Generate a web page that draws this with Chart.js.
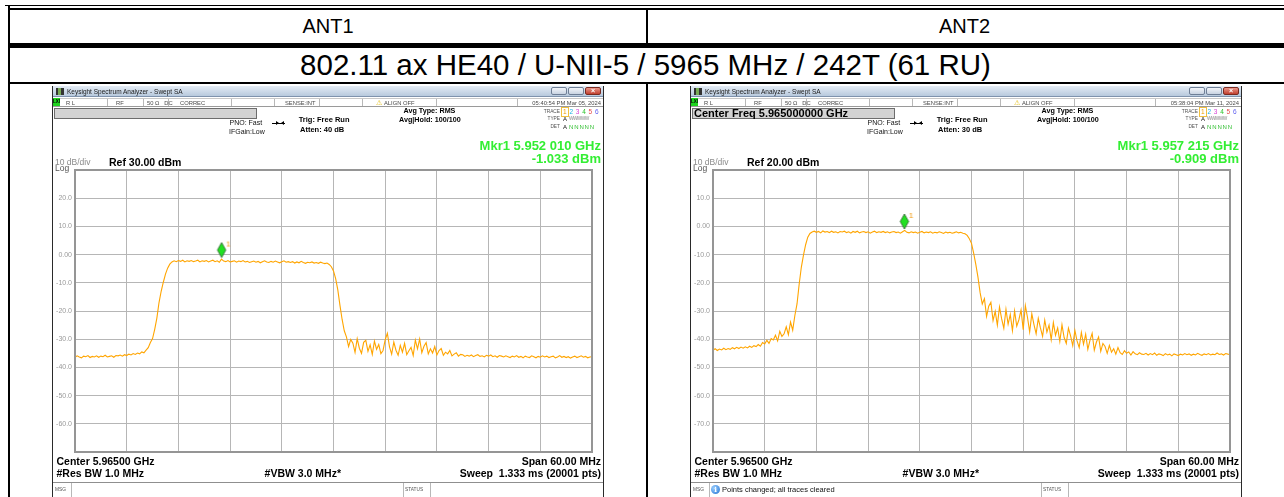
<!DOCTYPE html>
<html><head><meta charset="utf-8">
<script src="https://cdn.jsdelivr.net/npm/chart.js@4.4.1/dist/chart.umd.min.js"></script>
<style>
*{box-sizing:border-box;}
html,body{margin:0;padding:0;background:#fff;}
body{width:1284px;height:497px;position:relative;overflow:hidden;font-family:"Liberation Sans",Arial,Helvetica,sans-serif;color:#000;}
.b{position:absolute;background:#000;}
.ct{position:absolute;white-space:nowrap;text-align:center;}
.panel{position:absolute;top:86px;width:550px;height:411px;background:#fff;overflow:hidden;}
.t{position:absolute;white-space:pre;}
.tb{position:absolute;left:0;top:0;width:550px;height:11px;background:linear-gradient(#e4ecf6,#b8c9dd);border-bottom:1px solid #7f93ad;}
.ico{position:absolute;left:3px;top:2px;width:8px;height:7px;background:linear-gradient(90deg,#333 0 30%,#7a5 30% 60%,#333 60%);}
.wb{position:absolute;top:1px;width:16px;height:8px;border:1px solid #6f7f96;border-radius:2px;background:linear-gradient(#f2f5fa,#c9d4e2);}
.cl{background:linear-gradient(#e9968a,#c2402f);border-color:#7a2a20;color:#fff;font-size:7px;line-height:6px;text-align:center;font-weight:bold;}
.sr{position:absolute;left:0;top:12px;width:550px;height:9px;border-top:1px solid #c8c8c8;border-bottom:1px solid #9a9a9a;}
.sep{position:absolute;width:1px;background:#b8b8b8;}
.lxi{position:absolute;left:0;top:12px;width:7px;height:8px;background:#1ed31e;font-size:4.5px;line-height:8px;text-align:center;font-weight:bold;}
.gbox{position:absolute;left:1px;top:22px;width:203px;height:11px;background:#d3d3d3;border:1px solid #6d6d6d;font-weight:bold;font-size:11px;line-height:9px;padding-left:1px;white-space:nowrap;}
.stb{position:absolute;left:0;top:396px;width:550px;height:15px;border-top:1px solid #8f8f8f;}
.frame{position:absolute;top:86px;width:1px;height:411px;background:#2a2a2a;}
</style>
</head>
<body>
<!-- table rules -->
<div class="b" style="left:5px;top:5px;width:1279px;height:1px"></div>
<div class="b" style="left:8px;top:8px;width:1276px;height:2px"></div>
<div class="b" style="left:8px;top:5px;width:2px;height:492px"></div>
<div class="b" style="left:8px;top:43px;width:1276px;height:5px"></div>
<div class="b" style="left:8px;top:82px;width:1276px;height:2px"></div>
<div class="b" style="left:646px;top:10px;width:2px;height:33px"></div>
<div class="b" style="left:646px;top:84px;width:2px;height:413px"></div>
<div class="ct" style="left:10px;width:636px;top:10px;height:33px;line-height:33px;font-size:20px">ANT1</div>
<div class="ct" style="left:648px;width:633px;top:10px;height:33px;line-height:33px;font-size:20px">ANT2</div>
<div class="ct" style="left:10px;width:1271px;top:48px;height:34px;line-height:34px;font-size:29.5px">802.11 ax HE40 / U-NII-5 / 5965 MHz / 242T (61 RU)</div>

<script>
// ---------------- data ----------------
const centerMHz = 5965;
const spanMHz = 60;
const gridStepMHz = 6;

// ANT1 trace (dBm), sweep points evenly spaced over the span
const ant1Level = [
-36.4,-35.9,-36.3,-36.6,-36.0,-36.2,-35.8,-36.5,-36.1,-36.3,-35.9,-36.4,-36.0,-36.2,-35.7,-36.3,-36.1,-35.9,-36.4,-35.8,
-35.9,-35.6,-36.0,-35.5,-35.8,-35.3,-35.6,-35.1,-35.4,-34.9,-35.2,-34.5,-34.8,-33.9,-33.0,-31.2,-29.8,-26.5,-22.5,-17.0,
-13.0,-9.8,-6.9,-4.8,-3.4,-2.6,-2.2,-2.5,-2.1,-2.4,-2.0,-2.6,-2.2,-2.4,-2.1,-2.5,-2.3,-2.0,-2.6,-2.2,
-2.4,-2.1,-2.6,-2.3,-2.0,-2.5,-2.2,-2.7,-1.6,-2.3,-2.5,-2.1,-2.6,-2.4,-2.2,-2.7,-2.3,-2.5,-2.1,-2.6,
-2.4,-2.8,-2.5,-2.3,-2.7,-2.4,-2.9,-2.5,-2.2,-2.6,-2.8,-2.4,-2.7,-2.3,-2.6,-2.9,-2.5,-2.2,-2.7,-2.5,
-2.8,-2.5,-3.0,-2.6,-2.9,-2.4,-2.8,-3.1,-2.7,-2.9,-2.6,-3.0,-2.8,-3.1,-2.7,-3.0,-3.2,-3.0,-3.5,-4.3,
-5.8,-8.5,-12.5,-18.0,-23.0,-27.0,-29.2,-32.6,-30.1,-31.4,-34.7,-29.8,-33.2,-35.0,-31.1,-30.4,-34.3,-32.0,-35.4,-30.7,
-33.6,-31.9,-35.1,-34.0,-30.2,-27.9,-32.7,-35.3,-31.0,-33.9,-35.7,-32.2,-34.6,-31.5,-35.5,-34.1,-32.9,-35.8,-30.3,-33.4,
-29.9,-34.8,-32.5,-31.2,-35.2,-33.4,-34.9,-32.6,-35.6,-34.0,-33.3,-35.7,-34.6,-35.2,-34.0,-35.9,-35.3,-34.8,-36.0,-35.4,
-35.5,-36.1,-35.7,-36.0,-35.6,-36.2,-35.8,-35.5,-36.1,-35.9,-36.3,-35.7,-36.0,-35.6,-36.2,-35.9,-36.4,-35.8,-36.0,-36.3,
-35.9,-36.2,-36.5,-36.0,-36.3,-35.8,-36.4,-36.1,-36.6,-36.0,-36.3,-36.5,-35.9,-36.2,-36.6,-36.1,-36.4,-35.9,-36.3,-36.0,
-36.5,-36.2,-36.0,-36.6,-36.3,-35.8,-36.4,-36.1,-36.5,-36.2,-36.7,-36.3,-36.0,-36.5,-36.2,-35.9,-36.4,-36.1,-36.6,-36.3,-36.2
];

// ANT2 trace (dBm)
const ant2Level = [
-43.9,-43.4,-44.0,-43.5,-43.8,-43.2,-43.7,-43.3,-43.6,-43.0,-43.4,-42.9,-43.3,-42.8,-43.2,-42.7,-43.1,-42.5,-42.9,-42.3,
-42.6,-41.9,-42.5,-41.2,-41.7,-40.4,-41.5,-39.8,-40.3,-38.6,-40.6,-37.2,-39.0,-38.1,-35.6,-38.4,-33.9,-36.8,-31.6,-27.5,
-20.5,-14.5,-10.2,-6.5,-3.8,-2.5,-2.0,-1.7,-2.1,-1.8,-2.3,-1.6,-2.0,-1.8,-2.2,-1.7,-2.1,-1.9,-2.3,-1.8,
-2.0,-1.7,-2.2,-1.9,-2.4,-1.8,-2.1,-1.7,-2.3,-2.0,-1.8,-2.2,-1.9,-2.4,-2.0,-1.7,-2.2,-1.9,-2.1,-1.8,
-2.2,-1.9,-2.3,-2.0,-1.8,-2.2,-2.0,-2.4,-1.9,-1.4,-2.1,-2.3,-1.9,-2.2,-2.0,-2.4,-2.1,-1.8,-2.3,-2.0,
-2.2,-1.9,-2.4,-2.1,-2.3,-1.9,-2.2,-2.5,-2.0,-2.3,-2.1,-2.4,-2.2,-1.9,-2.3,-2.1,-2.4,-2.6,-3.2,-4.4,
-6.0,-9.5,-13.5,-18.0,-23.5,-27.5,-25.6,-31.9,-28.3,-26.9,-33.4,-30.1,-35.0,-28.6,-32.8,-36.1,-29.4,-34.7,-31.2,-37.0,
-30.0,-35.4,-33.1,-29.6,-36.6,-28.1,-32.3,-37.4,-31.0,-34.8,-38.1,-32.6,-36.0,-39.0,-33.2,-37.5,-35.0,-40.2,-34.1,-38.6,
-36.0,-40.8,-34.9,-39.4,-41.5,-36.1,-38.8,-42.3,-36.9,-40.6,-43.0,-37.6,-41.8,-38.2,-43.6,-40.4,-37.9,-43.9,-41.0,-39.2,
-44.3,-41.5,-42.6,-45.0,-42.2,-44.6,-43.4,-45.3,-43.0,-44.8,-45.4,-44.1,-45.0,-44.5,-45.6,-44.4,-45.2,-45.5,-44.8,-45.3,
-45.4,-45.0,-45.6,-45.1,-45.5,-44.9,-45.7,-45.2,-45.4,-45.8,-45.1,-45.6,-45.3,-45.9,-45.2,-45.5,-45.8,-45.3,-45.6,-45.1,
-45.5,-45.2,-45.7,-45.3,-45.6,-45.0,-45.4,-45.7,-45.2,-45.5,-45.1,-45.6,-45.3,-45.5,-44.9,-45.4,-45.2,-45.6,-45.1,-45.3,-45.4
];

// markers
const ant1Marker = {freqMHz: 5952.010, level: -1.033};
const ant2Marker = {freqMHz: 5957.215, level: -0.909};

// reference levels and y tick labels
const ant1RefLevel = 30;
const ant2RefLevel = 20;
const ant1TickValues = [20,10,0,-10,-20,-30,-40,-50,-60];
const ant1TickLabels = ['20.0','10.0','0.00','-10.0','-20.0','-30.0','-40.0','-50.0','-60.0'];
const ant2TickValues = [10,0,-10,-20,-30,-40,-50,-60,-70];
const ant2TickLabels = ['10.0','0.00','-10.0','-20.0','-30.0','-40.0','-50.0','-60.0','-70.0'];

// ---------------- helpers ----------------
function sweepPoints(levels){
  const start = centerMHz - spanMHz/2, step = spanMHz/(levels.length-1);
  return levels.map((v,i)=>({x: start + i*step, y: v}));
}
function markerImage(){
  const c=document.createElement('canvas'); c.width=24; c.height=40;
  const g=c.getContext('2d');
  g.beginPath(); g.moveTo(12,5); g.lineTo(16.2,12.5); g.lineTo(12,20); g.lineTo(7.8,12.5); g.closePath();
  g.fillStyle='#22e022'; g.fill(); g.strokeStyle='#2d5d2d'; g.lineWidth=0.8; g.stroke();
  g.fillStyle='#f29a10'; g.font='8px "Liberation Sans"'; g.fillText('1',16.5,8.5);
  return c;
}
const framePlugin={id:'frame',afterDraw(chart){const {ctx,chartArea:a}=chart;ctx.save();ctx.strokeStyle='#959595';ctx.lineWidth=2;ctx.strokeRect(a.left,a.top,a.right-a.left,a.bottom-a.top);ctx.restore();}};

function makeChart(canvas, levels, marker, ref, tickValues, tickLabels){
  const lo = centerMHz - spanMHz/2, hi = centerMHz + spanMHz/2;
  return new Chart(canvas.getContext('2d'), {
    type:'line',
    data:{datasets:[
      {data: sweepPoints(levels), borderColor:'#ffa500', borderWidth:1.1, pointRadius:0, tension:0, fill:false},
      {type:'scatter', data:[{x:marker.freqMHz, y:marker.level}], pointStyle: markerImage(), pointRadius:10, showLine:false}
    ]},
    options:{
      responsive:false, animation:false, events:[],
      layout:{padding:{left:0,right:5,top:10,bottom:10}},
      plugins:{legend:{display:false},tooltip:{enabled:false}},
      scales:{
        x:{type:'linear',min:lo,max:hi,ticks:{display:false,stepSize:gridStepMHz},
           grid:{color:'#b6b6b6',lineWidth:1,drawTicks:false},border:{display:false},
           afterFit(s){s.height=0;}},
        y:{min:ref-100,max:ref,ticks:{stepSize:10,padding:3,color:'#9a9a9a',font:{size:7,family:'Liberation Sans'},
             callback:(v)=>{const k=tickValues.indexOf(v);return k<0?'':tickLabels[k];}},
           grid:{color:'#b6b6b6',lineWidth:1,drawTicks:false},border:{display:false},
           afterFit(s){s.width=22;}}
      }
    },
    plugins:[framePlugin]
  });
}

function T(parent, s, o){
  const d=document.createElement('div'); d.className='t'; d.textContent=s;
  const lh=o.lh||12; d.style.lineHeight=lh+'px'; d.style.height=lh+'px'; d.style.top=(o.cy-lh/2)+'px';
  if(o.left!=null) d.style.left=o.left+'px';
  if(o.right!=null) d.style.right=(550-o.right)+'px';
  d.style.fontSize=o.fs+'px';
  if(o.bold) d.style.fontWeight='bold';
  if(o.color) d.style.color=o.color;
  if(o.css) d.style.cssText+=o.css;
  parent.appendChild(d); return d;
}
function div(parent, cls, css, html){const d=document.createElement('div'); if(cls) d.className=cls; d.style.cssText=css||''; if(html) d.innerHTML=html; parent.appendChild(d); return d;}

function buildPanel(p){
  div(document.body,'frame','left:'+(p.x0-1)+'px');
  div(document.body,'frame','left:'+(p.x0+550)+'px');
  const el=div(document.body,'panel','left:'+p.x0+'px');
  const cv=document.createElement('canvas'); cv.width=550; cv.height=304; cv.style.cssText='position:absolute;left:0;top:73px;';
  el.appendChild(cv);
  // title bar
  div(el,'tb');
  div(el,'ico');
  T(el,'Keysight Spectrum Analyzer - Swept SA',{left:14,cy:5.5,fs:6.5,lh:10,color:'#1a1a1a'});
  div(el,'wb','left:498px');
  div(el,'wb','left:515px');
  div(el,'wb cl','left:532px','×');
  // status row
  div(el,'sr');
  div(el,'lxi','','LXI');
  [54,90,115,178,221,266,309,383,464].forEach(x=>div(el,'sep','left:'+x+'px;top:13px;height:7px'));
  const sc='#4a4a4a';
  T(el,'R L',{left:13,cy:16.5,fs:5.8,lh:8,color:sc});
  T(el,'RF',{left:63,cy:16.5,fs:5.8,lh:8,color:sc});
  T(el,'50 Ω   DC',{left:94,cy:16.5,fs:5.8,lh:8,color:sc});
  T(el,'CORREC',{left:127,cy:16.5,fs:5.8,lh:8,color:sc});
  T(el,'SENSE:INT',{left:232,cy:16.5,fs:5.8,lh:8,color:sc});
  T(el,'ALIGN OFF',{left:331,cy:16.5,fs:5.8,lh:8,color:sc});
  T(el,'⚠',{left:323,cy:16.5,fs:7,lh:8,color:'#e0b800'});
  T(el,p.time,{right:548,cy:16.5,fs:5.8,lh:8,color:sc});
  // input box
  div(el,'gbox','',p.box);
  // settings
  T(el,'PNO: Fast',{left:176.5,cy:37.3,fs:7,color:'#111'});
  T(el,'IFGain:Low',{left:176,cy:45.7,fs:7,color:'#111'});
  div(el,'','position:absolute;left:219px;top:37px;width:13px;height:1px;background:#000');
  div(el,'','position:absolute;left:223px;top:35px;width:0;height:0;border-top:2.5px solid transparent;border-bottom:2.5px solid transparent;border-left:3px solid #000');
  div(el,'','position:absolute;left:228px;top:35px;width:0;height:0;border-top:2.5px solid transparent;border-bottom:2.5px solid transparent;border-right:3px solid #000');
  T(el,'Trig: Free Run',{left:245.7,cy:34,fs:7.5,bold:true});
  T(el,p.atten,{left:247,cy:43.7,fs:7.5,bold:true});
  T(el,'Avg Type: RMS',{left:350.5,cy:25.3,fs:7.2,bold:true});
  T(el,'Avg|Hold: 100/100',{left:346,cy:34,fs:7.2,bold:true});
  // trace block
  T(el,'TRACE',{right:507,cy:26.3,fs:4.8,lh:8,color:'#555'});
  T(el,'TYPE',{right:507,cy:33,fs:4.8,lh:8,color:'#555'});
  T(el,'DET',{right:507,cy:41,fs:4.8,lh:8,color:'#555'});
  const digits=[['1','#f0a000'],['2','#1fb3e6'],['3','#d640d6'],['4','#28c228'],['5','#e64a4a'],['6','#6262f0']];
  digits.forEach((d,i)=>{const e=T(el,d[0],{left:510+i*6.4,cy:26.3,fs:6.5,lh:8,color:d[1]}); if(i===0){e.style.outline='1px solid #f0c040';e.style.padding='0 1px';e.style.left='509px';}});
  T(el,'A',{left:510,cy:33,fs:6,lh:8,color:'#111'});
  T(el,'WWWWW',{left:516,cy:33,fs:4.8,lh:8,color:'#888',css:'letter-spacing:-0.6px'});
  T(el,'A',{left:510,cy:41,fs:6,lh:8,color:'#111'});
  T(el,'N N N N N',{left:516,cy:41,fs:6,lh:8,color:'#2fbf2f',css:'letter-spacing:-0.4px'});
  // marker readout
  T(el,p.mkr1,{right:548,cy:60,fs:13,bold:true,lh:14,color:'#33ee33'});
  T(el,p.mkr2,{right:548,cy:73,fs:13,bold:true,lh:14,color:'#33ee33'});
  // scale labels
  T(el,'10 dB/div',{left:2,cy:76.5,fs:8.5,lh:9,color:'#8a8a8a'});
  T(el,'Log',{left:2,cy:82.5,fs:8.5,lh:9,color:'#555'});
  T(el,p.ref,{left:56,cy:75.7,fs:10.5,bold:true});
  // bottom annotations
  T(el,'Center 5.96500 GHz',{left:3.5,cy:374.8,fs:10.5,bold:true});
  T(el,'Span 60.00 MHz',{right:548,cy:374.8,fs:10.5,bold:true});
  T(el,'#Res BW 1.0 MHz',{left:3.5,cy:387.3,fs:10.5,bold:true});
  T(el,'#VBW 3.0 MHz*',{left:211.6,cy:387.3,fs:10.5,bold:true});
  T(el,'Sweep  1.333 ms (20001 pts)',{right:548,cy:387.3,fs:10.5,bold:true});
  // status bar
  div(el,'stb');
  div(el,'sep','left:18px;top:397px;height:14px');
  div(el,'sep','left:350px;top:397px;height:14px');
  div(el,'sep','left:377px;top:397px;height:14px');
  T(el,'MSG',{left:2,cy:404,fs:4.8,lh:8,color:'#555'});
  T(el,'STATUS',{left:352,cy:404,fs:4.8,lh:8,color:'#555'});
  if(p.msg){
    div(el,'','position:absolute;left:20px;top:399px;width:9px;height:9px;border-radius:50%;background:radial-gradient(circle at 35% 35%,#9cd0ff,#1f6fd1);color:#fff;font-size:7px;line-height:9px;text-align:center;font-weight:bold;font-family:"DejaVu Serif",serif','i');
    T(el,p.msg,{left:31,cy:404,fs:7.5,lh:10,color:'#111'});
  }
  return cv;
}

const cv1 = buildPanel({x0:53, time:'05:40:54 PM Mar 05, 2024', box:'', atten:'Atten: 40 dB',
  mkr1:'Mkr1 5.952 010 GHz', mkr2:'-1.033 dBm', ref:'Ref 30.00 dBm', msg:''});
const cv2 = buildPanel({x0:691, time:'05:38:04 PM Mar 11, 2024', box:'Center Freq 5.965000000 GHz', atten:'Atten: 30 dB',
  mkr1:'Mkr1 5.957 215 GHz', mkr2:'-0.909 dBm', ref:'Ref 20.00 dBm', msg:'Points changed; all traces cleared'});

makeChart(cv1, ant1Level, ant1Marker, ant1RefLevel, ant1TickValues, ant1TickLabels);
makeChart(cv2, ant2Level, ant2Marker, ant2RefLevel, ant2TickValues, ant2TickLabels);
</script>
</body></html>
